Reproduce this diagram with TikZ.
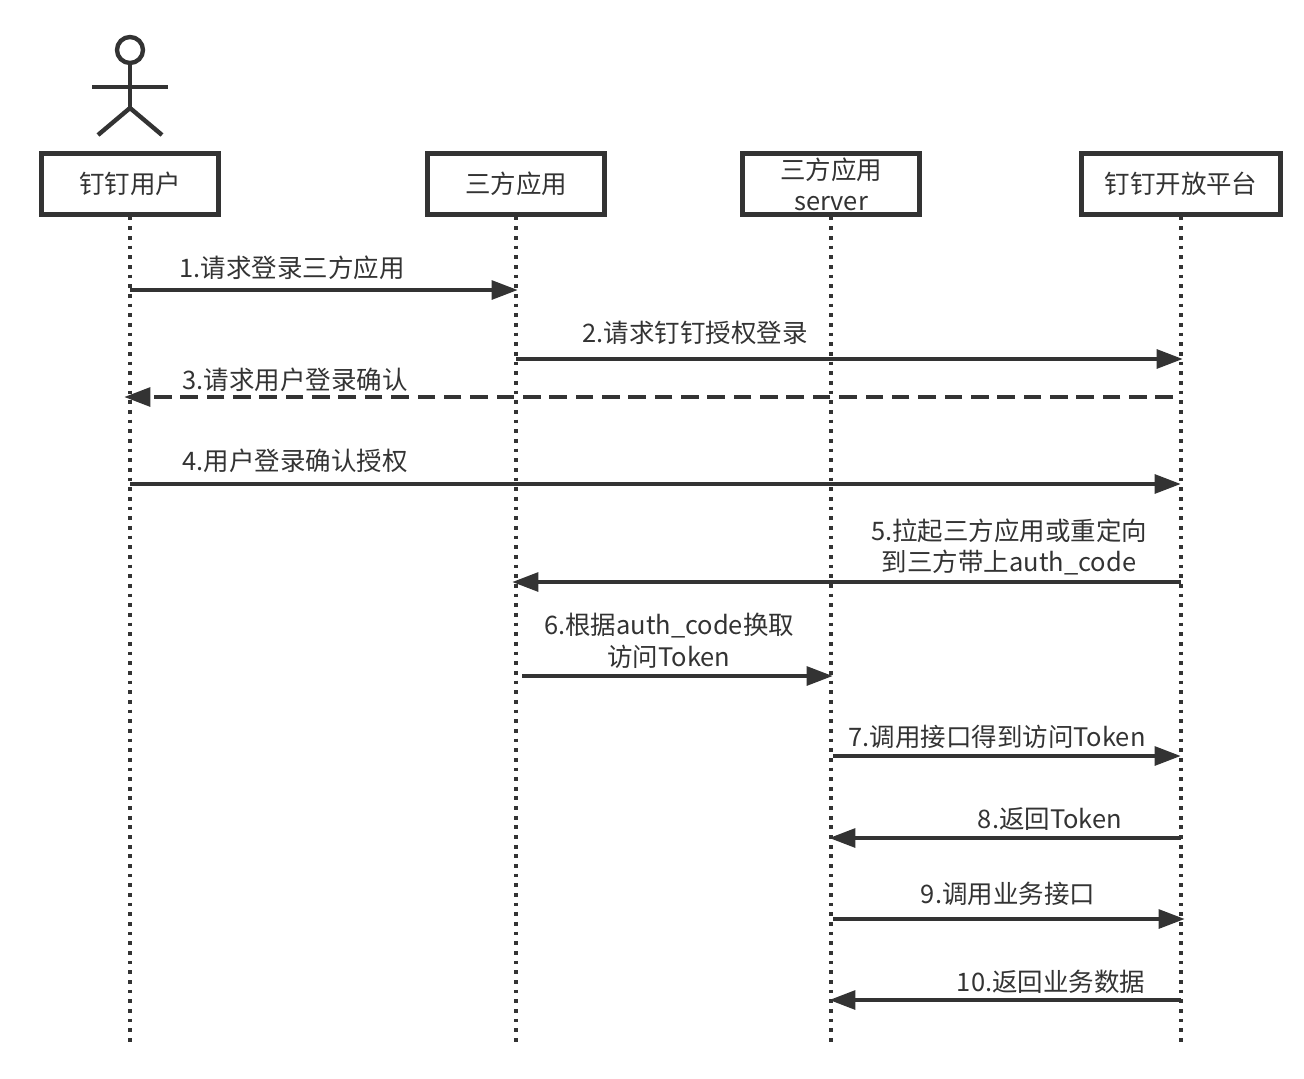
\documentclass[tikz,border=0pt]{standalone}
\usepackage{fontspec}
\setmainfont{Noto Sans CJK SC}
\usetikzlibrary{arrows.meta}
\definecolor{ink}{HTML}{333333}
\begin{document}
\begin{tikzpicture}[x=0.02cm,y=-0.02cm,
  font=\fontsize{14.5pt}{18pt}\selectfont, text=ink,
  actorbox/.style={draw=ink,line width=2.5pt,minimum width=177*0.02cm,minimum height=61*0.02cm,inner sep=0pt,align=center},
  lifeline/.style={draw=ink,line width=2.1pt,dash pattern=on 2.1pt off 3.4pt},
  msg/.style={draw=ink,line width=2.6pt,-{Triangle[length=15pt,width=10.5pt]}},
  dmsg/.style={msg,dash pattern=on 10pt off 5pt},
  lbl/.style={inner sep=0pt,align=center},
  stick/.style={draw=ink,line width=2.5pt}]
\useasboundingbox (0,0) rectangle (1304,1078);
% actor
\node[stick,circle,minimum size=26*0.02cm,inner sep=0pt] (head) at (130,50) {};
\coordinate (hip) at (130,108);
\coordinate (armL) at (92,87);
\coordinate (armR) at (168,87);
\coordinate (legL) at (98,135);
\coordinate (legR) at (162,135);
\draw[stick] (head.south) -- (hip);
\draw[stick] (armL) -- (armR);
\draw[stick] (legL) -- (hip) -- (legR);
% participants
\node[actorbox] (u) at (130,184) {钉钉用户};
\node[actorbox] (app) at (516,184) {三方应用};
\node[actorbox,font=\fontsize{14.5pt}{17.5pt}\selectfont] (srv) at (831,184) {三方应用\\server};
\node[actorbox,minimum width=199*0.02cm] (dt) at (1181,184) {钉钉开放平台};
% lifeline ends
\coordinate (uE) at (130,1045);
\coordinate (appE) at (516,1045);
\coordinate (srvE) at (831,1045);
\coordinate (dtE) at (1181,1045);
\draw[lifeline] (u.south) -- (uE);
\draw[lifeline] (app.south) -- (appE);
\draw[lifeline] (srv.south) -- (srvE);
\draw[lifeline] (dt.south) -- (dtE);
% message anchor points
\coordinate (u1) at (130,290);  \coordinate (a1) at (518,290);
\coordinate (a2) at (516,359);  \coordinate (d2) at (1183,359);
\coordinate (d3) at (1173,397); \coordinate (u3) at (124,397);
\coordinate (u4) at (130,484);  \coordinate (d4) at (1181,484);
\coordinate (d5) at (1181,582); \coordinate (a5) at (512,582);
\coordinate (a6) at (522,676);  \coordinate (s6) at (833,676);
\coordinate (s7) at (833,756);  \coordinate (d7) at (1181,756);
\coordinate (d8) at (1181,838); \coordinate (s8) at (829,838);
\coordinate (s9) at (833,919);  \coordinate (d9) at (1185,919);
\coordinate (d10) at (1181,1000); \coordinate (s10) at (829,1000);
\draw[msg] (u1) -- (a1);
\draw[msg] (a2) -- (d2);
\draw[dmsg] (d3) -- (u3);
\draw[msg] (u4) -- (d4);
\draw[msg] (d5) -- (a5);
\draw[msg] (a6) -- (s6);
\draw[msg] (s7) -- (d7);
\draw[msg] (d8) -- (s8);
\draw[msg] (s9) -- (d9);
\draw[msg] (d10) -- (s10);
% labels
\node[lbl] (l1) at (292,268) {1.请求登录三方应用};
\node[lbl] (l2) at (695,333) {2.请求钉钉授权登录};
\node[lbl] (l3) at (295,380) {3.请求用户登录确认};
\node[lbl] (l4) at (295,461) {4.用户登录确认授权};
\node[lbl] (l5) at (1009,547) {5.拉起三方应用或重定向\\到三方带上auth\_code};
\node[lbl] (l6) at (669,641) {6.根据auth\_code换取\\访问Token};
\node[lbl] (l7) at (997,737) {7.调用接口得到访问Token};
\node[lbl] (l8) at (1050,819) {8.返回Token};
\node[lbl] (l9) at (1008,894) {9.调用业务接口};
\node[lbl] (l10) at (1051,982) {10.返回业务数据};
\end{tikzpicture}
\end{document}
